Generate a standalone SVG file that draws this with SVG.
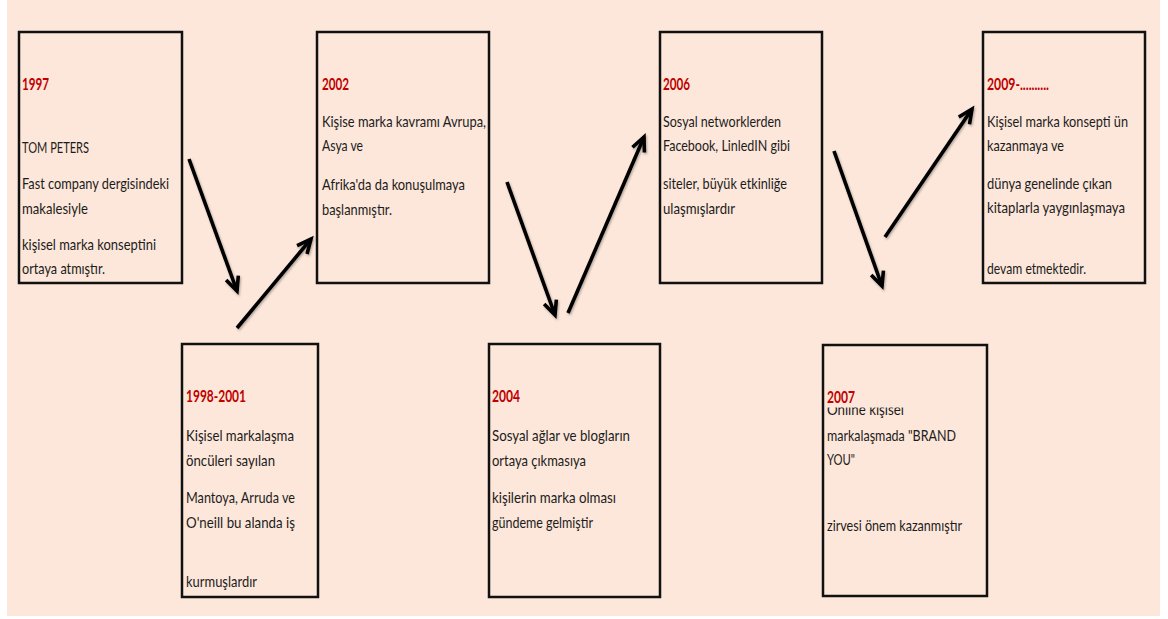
<svg xmlns="http://www.w3.org/2000/svg" width="1168" height="619" viewBox="0 0 1168 619">
<style>
.box{fill:#FCE7DA;stroke:#111;stroke-width:2.5}
.yr{font-family:Lato,"Liberation Sans",sans-serif;font-size:17px;font-weight:bold;fill:#C00000}
.tx{font-family:Lato,"Liberation Sans",sans-serif;font-size:16px;fill:#1c1c1c}
.arr{stroke:#000;stroke-width:3.6;fill:none;marker-end:url(#head);filter:url(#sh)}
</style>
<defs>
<marker id="head" markerUnits="userSpaceOnUse" markerWidth="20" markerHeight="20" refX="0" refY="0" viewBox="-16 -10 20 20" orient="auto" overflow="visible">
<path d="M-14,-6.5 L0,0 L-14,6.5" fill="none" stroke="#000" stroke-width="3.6" stroke-linejoin="miter"/>
</marker>
<filter id="sh" x="-20%" y="-20%" width="140%" height="140%">
<feDropShadow dx="1" dy="1.5" stdDeviation="1.2" flood-color="#000" flood-opacity="0.3"/>
</filter>
<clipPath id="clipOnline"><rect x="823" y="407.5" width="164" height="20"/></clipPath>
</defs>
<rect x="0" y="0" width="1168" height="619" fill="#FFFFFF"/>
<rect x="7" y="0" width="1153" height="616" fill="#FCE7DA"/>

<g id="node-1997">
<rect class="box" x="19" y="32" width="163" height="251"/>
<text class="yr" x="22" y="90" textLength="27" lengthAdjust="spacingAndGlyphs">1997</text>
<text class="tx" x="22" y="153" textLength="67" lengthAdjust="spacingAndGlyphs">TOM PETERS</text>
<text class="tx" x="22" y="189" textLength="147" lengthAdjust="spacingAndGlyphs">Fast company dergisindeki</text>
<text class="tx" x="22" y="214" textLength="66" lengthAdjust="spacingAndGlyphs">makalesiyle</text>
<text class="tx" x="22" y="250" textLength="134" lengthAdjust="spacingAndGlyphs">kişisel marka konseptini</text>
<text class="tx" x="22" y="274" textLength="83" lengthAdjust="spacingAndGlyphs">ortaya atmıştır.</text>
</g>

<g id="node-2002">
<rect class="box" x="317" y="32" width="172" height="251"/>
<text class="yr" x="322" y="90" textLength="27" lengthAdjust="spacingAndGlyphs">2002</text>
<text class="tx" x="322" y="127" textLength="164" lengthAdjust="spacingAndGlyphs">Kişise marka kavramı Avrupa,</text>
<text class="tx" x="322" y="151" textLength="41" lengthAdjust="spacingAndGlyphs">Asya ve</text>
<text class="tx" x="322" y="190" textLength="143" lengthAdjust="spacingAndGlyphs">Afrika'da da konuşulmaya</text>
<text class="tx" x="322" y="215" textLength="70" lengthAdjust="spacingAndGlyphs">başlanmıştır.</text>
</g>

<g id="node-2006">
<rect class="box" x="660" y="32" width="162" height="251"/>
<text class="yr" x="663" y="90" textLength="27" lengthAdjust="spacingAndGlyphs">2006</text>
<text class="tx" x="663" y="127" textLength="118" lengthAdjust="spacingAndGlyphs">Sosyal networklerden</text>
<text class="tx" x="663" y="151" textLength="127" lengthAdjust="spacingAndGlyphs">Facebook, LinledIN gibi</text>
<text class="tx" x="663" y="189" textLength="124" lengthAdjust="spacingAndGlyphs">siteler, büyük etkinliğe</text>
<text class="tx" x="663" y="214" textLength="72" lengthAdjust="spacingAndGlyphs">ulaşmışlardır</text>
</g>

<g id="node-2009">
<rect class="box" x="983" y="32" width="162" height="251"/>
<text class="yr" x="987" y="90" textLength="62" lengthAdjust="spacingAndGlyphs">2009-..........</text>
<text class="tx" x="987" y="127" textLength="141" lengthAdjust="spacingAndGlyphs">Kişisel marka konsepti ün</text>
<text class="tx" x="987" y="151" textLength="77" lengthAdjust="spacingAndGlyphs">kazanmaya ve</text>
<text class="tx" x="987" y="189" textLength="125" lengthAdjust="spacingAndGlyphs">dünya genelinde çıkan</text>
<text class="tx" x="987" y="213" textLength="138" lengthAdjust="spacingAndGlyphs">kitaplarla yaygınlaşmaya</text>
<text class="tx" x="987" y="274" textLength="99" lengthAdjust="spacingAndGlyphs">devam etmektedir.</text>
</g>

<g id="node-1998-2001">
<rect class="box" x="182" y="344" width="136" height="253"/>
<text class="yr" x="186" y="402" textLength="60" lengthAdjust="spacingAndGlyphs">1998-2001</text>
<text class="tx" x="186" y="441" textLength="108" lengthAdjust="spacingAndGlyphs">Kişisel markalaşma</text>
<text class="tx" x="186" y="466" textLength="89" lengthAdjust="spacingAndGlyphs">öncüleri sayılan</text>
<text class="tx" x="186" y="503" textLength="109" lengthAdjust="spacingAndGlyphs">Mantoya, Arruda ve</text>
<text class="tx" x="186" y="528" textLength="109" lengthAdjust="spacingAndGlyphs">O'neill bu alanda iş</text>
<text class="tx" x="186" y="587" textLength="71" lengthAdjust="spacingAndGlyphs">kurmuşlardır</text>
</g>

<g id="node-2004">
<rect class="box" x="489" y="344" width="171" height="253"/>
<text class="yr" x="492" y="402" textLength="28" lengthAdjust="spacingAndGlyphs">2004</text>
<text class="tx" x="492" y="441" textLength="138" lengthAdjust="spacingAndGlyphs">Sosyal ağlar ve blogların</text>
<text class="tx" x="492" y="466" textLength="94" lengthAdjust="spacingAndGlyphs">ortaya çıkmasıya</text>
<text class="tx" x="492" y="503" textLength="124" lengthAdjust="spacingAndGlyphs">kişilerin marka olması</text>
<text class="tx" x="492" y="528" textLength="101" lengthAdjust="spacingAndGlyphs">gündeme gelmiştir</text>
</g>

<g id="node-2007">
<rect class="box" x="823" y="345" width="164" height="251"/>
<text class="tx" x="827" y="415" textLength="77" lengthAdjust="spacingAndGlyphs" clip-path="url(#clipOnline)">Online kişisel</text>
<text class="yr" x="827" y="403" textLength="28" lengthAdjust="spacingAndGlyphs">2007</text>
<text class="tx" x="827" y="441" textLength="129" lengthAdjust="spacingAndGlyphs">markalaşmada &quot;BRAND</text>
<text class="tx" x="827" y="465" textLength="28" lengthAdjust="spacingAndGlyphs">YOU&quot;</text>
<text class="tx" x="827" y="531" textLength="135" lengthAdjust="spacingAndGlyphs">zirvesi önem kazanmıştır</text>
</g>

<g id="connectors">
<line class="arr" x1="189" y1="159" x2="237" y2="291"/>
<line class="arr" x1="237" y1="328" x2="311" y2="239"/>
<line class="arr" x1="507" y1="182" x2="555" y2="315"/>
<line class="arr" x1="568" y1="313" x2="644" y2="137"/>
<line class="arr" x1="834" y1="151" x2="882" y2="286"/>
<line class="arr" x1="885" y1="237" x2="972" y2="109"/>
</g>
</svg>
